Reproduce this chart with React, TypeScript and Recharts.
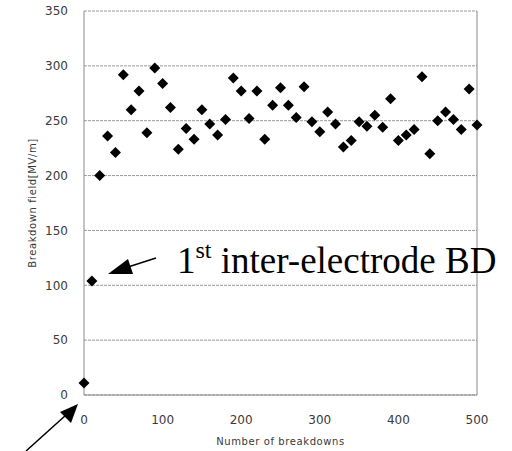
import React from 'react';
import {
  ScatterChart, Scatter, XAxis, YAxis, CartesianGrid, ReferenceLine, Label,
} from 'recharts';

const BREAKDOWN_COUNT = [
  0, 10, 20, 30, 40, 50, 60, 70, 80, 90,
  100, 110, 120, 130, 140, 150, 160, 170, 180, 190,
  200, 210, 220, 230, 240, 250, 260, 270, 280, 290,
  300, 310, 320, 330, 340, 350, 360, 370, 380, 390,
  400, 410, 420, 430, 440, 450, 460, 470, 480, 490, 500,
];
const FIELD = [
  11, 104, 200, 236, 221, 292, 260, 277, 239, 298,
  284, 262, 224, 243, 233, 260, 247, 237, 251, 289,
  277, 252, 277, 233, 264, 280, 264, 253, 281, 249,
  240, 258, 247, 226, 232, 249, 245, 255, 244, 270,
  232, 237, 242, 290, 220, 250, 258, 251, 242, 279, 246,
];
const X_TICKS = [0, 100, 200, 300, 400, 500];
const Y_TICKS = [0, 50, 100, 150, 200, 250, 300, 350];

const AXIS_GREY = '#8a8a8a';
const TICK_TEXT = '#3a3a3a';
const LABEL_FONT = '"DejaVu Sans", sans-serif';

const data = BREAKDOWN_COUNT.map((x, i) => ({ x, y: FIELD[i] }));

// black diamond marker
const Diamond = (props: any) => {
  const { cx, cy } = props;
  const r = 5.5;
  return (
    <polygon
      points={`${cx},${cy - r} ${cx + r},${cy} ${cx},${cy + r} ${cx - r},${cy}`}
      fill="#000"
    />
  );
};

const tickStyle = { fill: TICK_TEXT, fontSize: 12, fontFamily: LABEL_FONT };

export default function App() {
  return (
    <div style={{ position: 'absolute', left: 0, top: 0, width: 512, height: 451, background: '#fff' }}>
      <ScatterChart
        width={512}
        height={451}
        margin={{ top: 11, right: 35, bottom: 0, left: 0 }}
      >
        <CartesianGrid vertical={false} stroke="#9a9a9a" strokeDasharray="3 1" />
        <XAxis
          type="number"
          dataKey="x"
          domain={[0, 500]}
          ticks={X_TICKS}
          height={56}
          stroke={AXIS_GREY}
          tickLine={false}
          tick={tickStyle}
          tickMargin={14}
        >
          <Label
            value="Number of breakdowns"
            position="insideBottom"
            offset={6}
            style={{ fill: TICK_TEXT, fontSize: 10, fontFamily: LABEL_FONT, letterSpacing: 0.6 }}
          />
        </XAxis>
        <YAxis
          type="number"
          dataKey="y"
          domain={[0, 350]}
          ticks={Y_TICKS}
          width={84}
          stroke={AXIS_GREY}
          tickLine={false}
          tick={tickStyle}
          tickMargin={10}
        >
          <Label
            value="Breakdown field[MV/m]"
            angle={-90}
            position="insideLeft"
            offset={32}
            style={{ textAnchor: 'middle', fill: TICK_TEXT, fontSize: 10, fontFamily: LABEL_FONT, letterSpacing: 0.6 }}
          />
        </YAxis>
        <ReferenceLine x={500} stroke={AXIS_GREY} />
        <Scatter data={data} shape={<Diamond />} isAnimationActive={false} />
      </ScatterChart>

      {/* annotations */}
      <svg
        width={512}
        height={451}
        style={{ position: 'absolute', left: 0, top: 0, pointerEvents: 'none' }}
      >
        <line x1={156} y1={258} x2={128} y2={267} stroke="#000" strokeWidth={1.5} />
        <polygon points="108,274 128,259 133,274" fill="#000" />
        <text x={177} y={273} fontFamily='"Liberation Serif", serif' fontSize={37} fill="#000">
          1<tspan fontSize={24} dy={-15}>st</tspan>
          <tspan dy={15}> inter-electrode BD</tspan>
        </text>

        <line x1={26} y1={451} x2={66} y2={415} stroke="#000" strokeWidth={1.5} />
        <polygon points="78,404 60,412 71,423" fill="#000" />
      </svg>
    </div>
  );
}
